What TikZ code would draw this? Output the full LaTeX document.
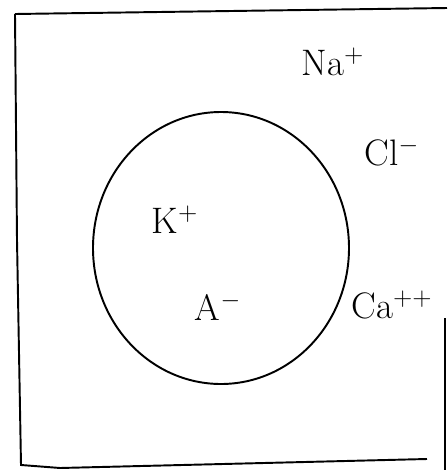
\documentclass[tikz,border=0pt]{standalone}
\usetikzlibrary{positioning}
\begin{document}
\begin{tikzpicture}[x=0.02cm,y=-0.02cm,line width=1.1pt,
  ion/.style={font=\fontsize{21}{24}\selectfont,inner sep=1pt}]
  \useasboundingbox (0,0) rectangle (447,474);
  % outer box
  \draw (15,14) -- (447,8);
  \draw (15,14) -- (17,240) -- (21,465) -- (60,468) -- (427,459);
  \draw (445,318) -- (445,470);
  % cell
  \draw (221,248) ellipse [x radius=128, y radius=136];
  % ions outside
  \node[ion] (na) at (333,62) {Na$^+$};
  \node[ion] (cl) at (392,152) {Cl$^-$};
  \node[ion] (ca) at (392,305) {Ca$^{++}$};
  % ions inside
  \node[ion] (k) at (175,220) {K$^+$};
  \node[ion] (a) at (218,307) {A$^-$};
\end{tikzpicture}
\end{document}
